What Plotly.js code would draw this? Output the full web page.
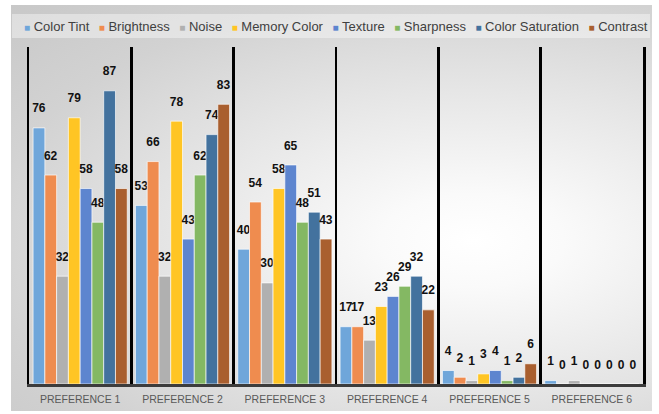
<!DOCTYPE html>
<html><head><meta charset="utf-8">
<script src="https://cdn.plot.ly/plotly-3.0.1.min.js"></script>
<style>
html,body{margin:0;padding:0;background:#fff;}
#wrap{position:relative;width:659px;height:414px;overflow:hidden;}
#bg{position:absolute;left:11px;top:5px;width:641px;height:406px;
background:radial-gradient(farthest-corner at 72% 58%, #ffffff 0%, #fafafa 14%, #e6e6e6 45%, #d2d2d2 75%, #c8c8c8 100%);}
#chart{position:absolute;left:0;top:0;width:659px;height:414px;}
</style></head>
<body><div id="wrap"><div id="bg"></div><div id="chart"></div></div>
<script>
const categories = ["PREFERENCE 1","PREFERENCE 2","PREFERENCE 3","PREFERENCE 4","PREFERENCE 5","PREFERENCE 6"];
const seriesNames = ["Color Tint","Brightness","Noise","Memory Color","Texture","Sharpness","Color Saturation","Contrast"];
const colorTint       = [76, 53, 40, 17, 4, 1];
const brightness      = [62, 66, 54, 17, 2, 0];
const noise           = [32, 32, 30, 13, 1, 1];
const memoryColor     = [79, 78, 58, 23, 3, 0];
const texture         = [58, 43, 65, 26, 4, 0];
const sharpness       = [48, 62, 48, 29, 1, 0];
const colorSaturation = [87, 74, 51, 32, 2, 0];
const contrast        = [58, 83, 43, 22, 6, 0];
const seriesColors = ["#6fa6da","#ef8c4f","#b0b0b0","#ffc524","#5d85cf","#84b863","#43729e","#a95f2f"];

const seriesValues = [colorTint, brightness, noise, memoryColor, texture, sharpness, colorSaturation, contrast];

const traces = seriesValues.map((vals, i) => ({
  type: 'bar',
  name: seriesNames[i],
  x: categories,
  y: vals,
  marker: {color: seriesColors[i], line: {color: 'rgba(255,255,255,0.65)', width: 1}},
  text: vals.map(String),
  texttemplate: '<span style="font-size:12px"><b>%{text}</b></span><br>\u00a0',
  textposition: 'outside',
  constraintext: 'none',
  cliponaxis: false,
  textfont: {family: 'Liberation Sans, Arial, sans-serif', size: 8, color: '#111'},
  showlegend: false,
  hoverinfo: 'skip'
}));

const legendText = seriesNames.map((n, i) =>
  `<span style="color:${seriesColors[i]};font-size:10px">■</span>\u00a0${n}`)
  .join('<span style="font-size:17px">\u00a0\u00a0</span>');

const layout = {
  width: 659, height: 414,
  margin: {l: 29, r: 16, t: 47, b: 30, pad: 0},
  paper_bgcolor: 'rgba(0,0,0,0)',
  plot_bgcolor: 'rgba(0,0,0,0)',
  barmode: 'group',
  bargap: 0.08,
  bargroupgap: 0,
  font: {family: 'Liberation Sans, Arial, sans-serif'},
  xaxis: {
    type: 'category',
    tickson: 'boundaries',
    showgrid: true, gridcolor: '#000', gridwidth: 2.5,
    ticks: '',
    showline: true, linecolor: '#3c3c3c', linewidth: 3,
    tickfont: {size: 10.5, color: '#595959'},
    ticklabelstandoff: 3,
    fixedrange: true
  },
  yaxis: {
    range: [0, 100],
    showgrid: false, zeroline: false, showticklabels: false, ticks: '',
    showline: true, mirror: true, linecolor: '#000', linewidth: 2.5,
    fixedrange: true
  },
  shapes: [{
    type: 'rect', xref: 'paper', yref: 'paper', layer: 'below',
    x0: -0.0277, x1: 1.0114, y0: 1.0267, y1: 1.0979,
    line: {width: 0}, fillcolor: 'rgba(255,255,255,0.4)'
  }],
  annotations: [{
    xref: 'paper', yref: 'paper', x: 0.5, y: 1, xanchor: 'center', yanchor: 'bottom',
    xshift: 0, yshift: 10,
    text: legendText, showarrow: false,
    font: {size: 13, color: '#404040', family: 'Liberation Sans, Arial, sans-serif'}
  }]
};

Plotly.newPlot('chart', traces, layout, {displayModeBar: false, staticPlot: true});
</script>
</body></html>
